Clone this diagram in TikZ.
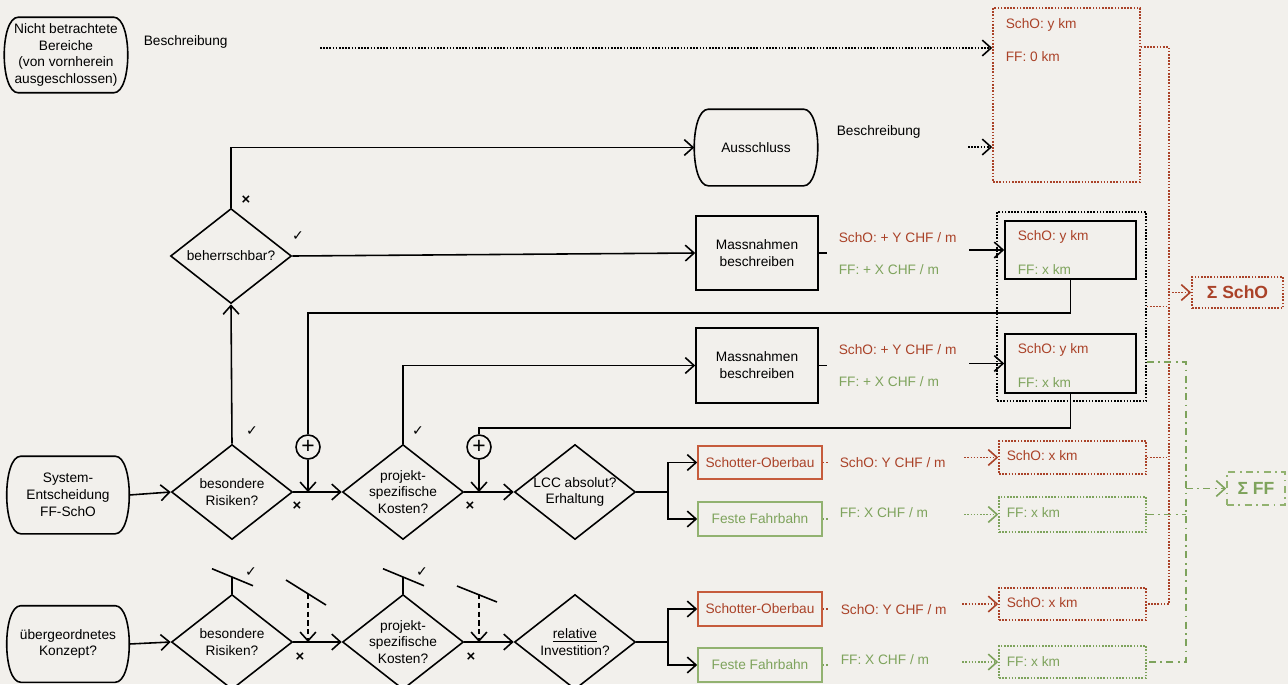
\documentclass[tikz,border=0pt]{standalone}
\usepackage{fontspec}
\setmainfont{Liberation Sans}
\newfontfamily\symfont{DejaVu Sans}
\usetikzlibrary{arrows.meta,shapes.geometric}
\definecolor{paper}{RGB}{242,240,236}
\definecolor{schored}{RGB}{170,66,40}
\definecolor{schoedge}{RGB}{198,92,60}
\definecolor{ffgreen}{RGB}{126,163,92}
\definecolor{ffedge}{RGB}{146,178,112}
\def\termoutline(#1){\draw[line width=0.9pt] ([xshift=8pt]#1.north west) -- ([xshift=-8pt]#1.north east) .. controls ([xshift=2.67pt]#1.north east) and ([xshift=2.67pt]#1.south east) .. ([xshift=-8pt]#1.south east) -- ([xshift=8pt]#1.south west) .. controls ([xshift=-2.67pt]#1.south west) and ([xshift=-2.67pt]#1.north west) .. cycle;}

\begin{document}
\begin{tikzpicture}[x=0.02cm, y=-0.02cm,
    font=\fontsize{7.8}{9.6}\selectfont,
    line width=0.9pt,
    arr/.style={-{Straight Barb[length=5pt,width=9pt]}},
    terminal/.style={rectangle, inner sep=0pt, align=center},
    decision/.style={draw, diamond, aspect=1.29, align=center, inner sep=-4pt, minimum width=2.42cm, minimum height=1.9cm},
    process/.style={draw, rectangle, align=center, inner sep=0pt},
    plus/.style={draw, circle, inner sep=0pt, minimum size=0.48cm, font=\fontsize{13}{13}\selectfont},
    dots/.style={dash pattern=on 0.9pt off 0.9pt},
    dashdots/.style={dash pattern=on 4pt off 2.5pt on 1pt off 2.5pt},
    dasharr/.style={dash pattern=on 3pt off 2pt},
    note/.style={anchor=west, inner sep=0pt},
    yes/.style={font=\symfont\fontsize{8}{8}\selectfont},
    no/.style={font=\bfseries\fontsize{8.5}{8.5}\selectfont}
]
	%%%%% START %%%%%
	\fill[paper] (0,0) rectangle (1288,684);
	\useasboundingbox (0,0) rectangle (1288,684);

	% excluded areas
	\node[terminal, minimum width=2.44cm, minimum height=1.48cm] (nicht) at (66,55) {Nicht betrachtete\\Bereiche\\(von vornherein\\ausgeschlossen)};
	\termoutline(nicht)
	\node[note] (besch0) at (143,42) {Beschreibung};
	\node[draw, dots, schored, minimum width=2.94cm, minimum height=3.48cm] (excl) at (1066.5,95) {};
	\node[note, schored] (exa) at (1005,25) {SchO: y km};
	\node[note, schored] (exb) at (1005,57) {FF: 0 km};
	\coordinate (d0) at (320,48);
	\draw[dots, arr] (d0) -- (d0 -| excl.west);

	% Ausschluss
	\node[terminal, minimum width=2.44cm, minimum height=1.5cm] (aus) at (756,147.5) {Ausschluss};
	\termoutline(aus)
	\node[note] (besch1) at (836,132) {Beschreibung};
	\coordinate (d1) at (968,147);
	\draw[dots, arr] (d1) -- (d1 -| excl.west);

	% upper branch
	\node[decision] (beh) at (231,256) {beherrschbar?};
	\draw[arr] (beh.north) |- (aus.west);
	\node[no] at (246,200) {×};
	\node[yes] at (298,236) {✓};

	\node[process, minimum width=2.44cm, minimum height=1.48cm] (mass1) at (757,253) {Massnahmen\\beschreiben};
	\draw[arr] (beh.east) -- (mass1.west);
	\draw (mass1.east) -- ++(8,0);
	\node[note, schored] (c1a) at (838,238) {SchO: + Y CHF / m};
	\node[note, ffgreen] (c1b) at (838,270) {FF: + X CHF / m};

	\node[process, minimum width=2.44cm, minimum height=1.5cm] (mass2) at (757,365.5) {Massnahmen\\beschreiben};
	\draw (mass2.east) -- ++(8,0);
	\node[note, schored] (c2a) at (838,350) {SchO: + Y CHF / m};
	\node[note, ffgreen] (c2b) at (838,382) {FF: + X CHF / m};

	\node[draw, dots, minimum width=2.98cm, minimum height=3.78cm] (grp) at (1071.5,306.5) {};
	\node[process, minimum width=2.62cm, minimum height=1.16cm] (res1) at (1070.5,250) {};
	\node[note, schored] at (1017,237) {SchO: y km};
	\node[note, ffgreen] at (1017,270) {FF: x km};
	\node[process, minimum width=2.62cm, minimum height=1.18cm] (res2) at (1070.5,363.5) {};
	\node[note, schored] at (1017,350) {SchO: y km};
	\node[note, ffgreen] at (1017,383) {FF: x km};
	\draw[arr] ([xshift=-0.7cm]res1.west) -- (res1.west);
	\draw[arr] ([xshift=-0.7cm]res2.west) -- (res2.west);

	% System-Entscheidung
	\node[terminal, minimum width=2.42cm, minimum height=1.52cm] (sys) at (68,495) {System-\\Entscheidung\\FF-SchO};
	\termoutline(sys)
	\node[decision] (bes1) at (232,492) {besondere\\Risiken?};
	\node[decision] (proj1) at (403,492) {projekt-\\spezifische\\Kosten?};
	\node[decision] (lcc) at (575,492) {LCC absolut?\\Erhaltung};
	\node[plus] (plus1) at (308,447) {+};
	\node[plus] (plus2) at (479,447) {+};
	\draw[arr] (sys.east) -- (bes1.west);
	\draw[arr] (bes1.east) -- (proj1.west);
	\draw[arr] (proj1.east) -- (lcc.west);
	\draw[arr] (bes1.north) -- (beh.south);
	\draw[arr] (proj1.north) |- (mass2.west);
	\draw (res1.south) -- ++(0,33) -| (plus1.north);
	\draw (res2.south) -- ++(0,34) -| (plus2.north);
	\draw[arr] (plus1.south) -- (plus1.south |- bes1.east);
	\draw[arr] (plus2.south) -- (plus2.south |- proj1.east);
	\node[yes] at (252,431) {✓};
	\node[yes] at (418,431) {✓};
	\node[no] at (297,506) {×};
	\node[no] at (470,506) {×};

	\node[process, draw=schoedge, text=schored, minimum width=2.48cm, minimum height=0.66cm] (scho1) at (760,462.5) {Schotter-Oberbau};
	\node[process, draw=ffedge, text=ffgreen, minimum width=2.48cm, minimum height=0.68cm] (ff1) at (760,519) {Feste Fahrbahn};
	\draw (lcc.east) -- ++(32,0) coordinate (j1);
	\draw[arr] (j1) |- (scho1.west);
	\draw[arr] (j1) |- (ff1.west);
	\draw[dots, schored] (scho1.east) -- ++(5,0);
	\draw[dots, ffgreen] (ff1.east) -- ++(5,0);
	\node[note, schored] (c3a) at (839,463) {SchO: Y CHF / m};
	\node[note, ffgreen] (c3b) at (839,513) {FF: X CHF / m};
	\node[draw, dots, schored, minimum width=2.94cm, minimum height=0.66cm] (km1) at (1072.5,457.5) {};
	\node[note, schored] at (1006,456) {SchO: x km};
	\node[draw, dots, ffgreen, minimum width=2.94cm, minimum height=0.7cm] (km2) at (1072.5,514.5) {};
	\node[note, ffgreen] at (1006,513) {FF: x km};
	\draw[dots, schored, arr] ([xshift=-0.68cm]km1.west) -- (km1.west);
	\draw[dots, ffgreen, arr] ([xshift=-0.68cm]km2.west) -- (km2.west);

	% uebergeordnetes Konzept
	\node[terminal, minimum width=2.42cm, minimum height=1.5cm] (konz) at (68,644) {übergeordnetes\\Konzept?};
	\termoutline(konz)
	\node[decision] (bes2) at (232,642) {besondere\\Risiken?};
	\node[decision] (proj2) at (403,642) {projekt-\\spezifische\\Kosten?};
	\node[decision] (rel) at (575,642) {\underline{relative}\\Investition?};
	\draw[arr] (konz.east) -- (bes2.west);
	\draw[arr] (bes2.east) -- (proj2.west);
	\draw[arr] (proj2.east) -- (rel.west);
	\draw (bes2.north) -- ++(0,-17) coordinate (s1);
	\draw (proj2.north) -- ++(0,-17) coordinate (s2);
	\draw ([shift={(-20,-8)}]s1) -- ([shift={(21,9)}]s1);
	\draw ([shift={(-20,-8)}]s2) -- ([shift={(21,9)}]s2);
	\node[yes] at ([shift={(19,-5)}]s1) {✓};
	\node[yes] at ([shift={(19,-5)}]s2) {✓};
	\coordinate (q1) at (308,594);
	\coordinate (q2) at (479,594);
	\draw ([shift={(-22,-14)}]q1) -- ([shift={(18,11)}]q1);
	\draw ([shift={(-22,-8)}]q2) -- ([shift={(18,8)}]q2);
	\draw[dasharr, arr] (q1) -- (q1 |- bes2.east);
	\draw[dasharr, arr] (q2) -- (q2 |- proj2.east);
	\node[no] at (300,657) {×};
	\node[no] at (471,657) {×};

	\node[process, draw=schoedge, text=schored, minimum width=2.48cm, minimum height=0.68cm] (scho2) at (760,609) {Schotter-Oberbau};
	\node[process, draw=ffedge, text=ffgreen, minimum width=2.48cm, minimum height=0.68cm] (ff2) at (760,665) {Feste Fahrbahn};
	\draw (rel.east) -- ++(32,0) coordinate (j2);
	\draw[arr] (j2) |- (scho2.west);
	\draw[arr] (j2) |- (ff2.west);
	\draw[dots, schored] (scho2.east) -- ++(5,0);
	\draw[dots, ffgreen] (ff2.east) -- ++(5,0);
	\node[note, schored] (c4a) at (840,610) {SchO: Y CHF / m};
	\node[note, ffgreen] (c4b) at (840,660) {FF: X CHF / m};
	\node[draw, dots, schored, minimum width=2.94cm, minimum height=0.64cm] (km3) at (1072.5,604) {};
	\node[note, schored] at (1006,603) {SchO: x km};
	\node[draw, dots, ffgreen, minimum width=2.94cm, minimum height=0.64cm] (km4) at (1072.5,662) {};
	\node[note, ffgreen] at (1006,662) {FF: x km};
	\draw[dots, schored, arr] ([xshift=-0.72cm]km3.west) -- (km3.west);
	\draw[dots, ffgreen, arr] ([xshift=-0.72cm]km4.west) -- (km4.west);

	% sums
	\node[draw, dots, schored, text=schored, font=\bfseries\fontsize{10}{10}\selectfont, minimum width=1.82cm, minimum height=0.62cm] (sumscho) at (1237.5,292.5) {Σ SchO};
	\node[draw, dashdots, ffedge, text=ffgreen, font=\bfseries\fontsize{10}{10}\selectfont, minimum width=1.16cm, minimum height=0.66cm] (sumff) at (1256,488.5) {Σ FF};
	\draw[dots, schored] ([yshift=-0.8cm]excl.north east) -- ++(28,0) coordinate (rbus) -- (rbus |- km3.east) -- (km3.east);
	\draw[dots, schored] (grp.east) -- (grp.east -| rbus);
	\draw[dots, schored] (km1.east) -- (km1.east -| rbus);
	\draw[dots, schored, arr] (rbus |- sumscho.west) -- (sumscho.west);
	\draw[dashdots, ffgreen] ([yshift=-1.11cm]grp.east) -- ++(39,0) coordinate (gbus) -- (gbus |- km4.east) -- (km4.east);
	\draw[dashdots, ffgreen] (km2.east) -- (km2.east -| gbus);
	\draw[dashdots, ffgreen, arr] (gbus |- sumff.west) -- (sumff.west);
	%%%%% END %%%%%
\end{tikzpicture}
\end{document}
